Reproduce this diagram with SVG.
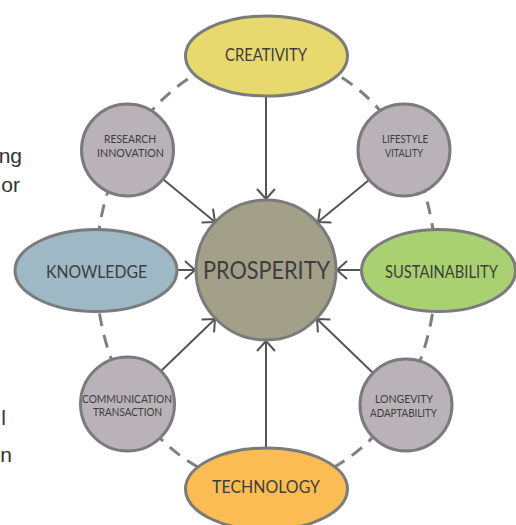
<svg xmlns="http://www.w3.org/2000/svg" width="516" height="525" viewBox="0 0 516 525">
<defs>
<style>
.bg{fill:#ffffff}
.ring{fill:none;stroke:#808080;stroke-width:3;stroke-dasharray:13 9}
.node{stroke:#7b7b7b;stroke-width:3}
.small{fill:#b9b3b9}
.lbl{font-family:Lato,"Liberation Sans",sans-serif;fill:#3d3d3d;text-anchor:middle}
.big{font-size:17px}
.tiny{font-size:10.5px}
.side{font-family:"Liberation Sans",Arial,sans-serif;font-size:21px;fill:#333333;text-anchor:end}
.conn{stroke:#555555;stroke-width:2;fill:none}
</style>
<marker id="arr" viewBox="-13 -11 15 22" refX="0" refY="0" markerWidth="15" markerHeight="22" markerUnits="userSpaceOnUse" orient="auto">
<path d="M-10,-9 L0,0 L-10,9" fill="none" stroke="#555555" stroke-width="2"/>
</marker>
</defs>
<rect class="bg" x="0" y="0" width="516" height="525"/>
<g id="side-text">
<text class="side" x="22" y="163">ng</text>
<text class="side" x="20" y="192">or</text>
<text class="side" x="6" y="425">l</text>
<text class="side" x="12" y="462">n</text>
</g>
<ellipse class="ring" cx="266" cy="270" rx="170" ry="215"/>
<g id="connectors">
<line class="conn" x1="266" y1="97" x2="266" y2="199" marker-end="url(#arr)"/>
<line class="conn" x1="177" y1="270" x2="195" y2="270" marker-end="url(#arr)"/>
<line class="conn" x1="360" y1="270" x2="337" y2="270" marker-end="url(#arr)"/>
<line class="conn" x1="266" y1="447" x2="266" y2="341" marker-end="url(#arr)"/>
<line class="conn" x1="164" y1="180" x2="215" y2="222" marker-end="url(#arr)"/>
<line class="conn" x1="369" y1="180" x2="318" y2="222" marker-end="url(#arr)"/>
<line class="conn" x1="161" y1="371" x2="215" y2="319" marker-end="url(#arr)"/>
<line class="conn" x1="373" y1="373" x2="317" y2="319" marker-end="url(#arr)"/>
</g>
<g id="creativity">
<ellipse class="node" cx="266.5" cy="56" rx="81" ry="40" fill="#e8d96f"/>
<text class="lbl big" x="266" y="61" textLength="82" lengthAdjust="spacingAndGlyphs">CREATIVITY</text>
</g>
<g id="knowledge">
<ellipse class="node" cx="96" cy="270.5" rx="81" ry="41" fill="#9fb8c5"/>
<text class="lbl big" x="96.5" y="278" textLength="101" lengthAdjust="spacingAndGlyphs">KNOWLEDGE</text>
</g>
<g id="sustainability">
<ellipse class="node" cx="438.5" cy="270.5" rx="77" ry="41" fill="#a9d172"/>
<text class="lbl big" x="441.5" y="278" textLength="113" lengthAdjust="spacingAndGlyphs">SUSTAINABILITY</text>
</g>
<g id="technology">
<ellipse class="node" cx="266.5" cy="489" rx="81" ry="41" fill="#fbbd53"/>
<text class="lbl big" x="266" y="493" textLength="108" lengthAdjust="spacingAndGlyphs">TECHNOLOGY</text>
</g>
<g id="research-innovation">
<circle class="node small" cx="127.5" cy="150" r="46"/>
<text class="lbl tiny" x="130" y="143" textLength="52" lengthAdjust="spacingAndGlyphs">RESEARCH</text>
<text class="lbl tiny" x="130.5" y="157" textLength="67" lengthAdjust="spacingAndGlyphs">INNOVATION</text>
</g>
<g id="lifestyle-vitality">
<circle class="node small" cx="404" cy="150" r="46"/>
<text class="lbl tiny" x="405" y="143" textLength="46" lengthAdjust="spacingAndGlyphs">LIFESTYLE</text>
<text class="lbl tiny" x="404" y="157" textLength="38" lengthAdjust="spacingAndGlyphs">VITALITY</text>
</g>
<g id="communication-transaction">
<circle class="node small" cx="127.5" cy="404" r="47"/>
<text class="lbl tiny" x="127" y="403" textLength="90" lengthAdjust="spacingAndGlyphs">COMMUNICATION</text>
<text class="lbl tiny" x="127.5" y="416" textLength="69" lengthAdjust="spacingAndGlyphs">TRANSACTION</text>
</g>
<g id="longevity-adaptability">
<circle class="node small" cx="406" cy="405" r="46"/>
<text class="lbl tiny" x="404" y="403" textLength="58" lengthAdjust="spacingAndGlyphs">LONGEVITY</text>
<text class="lbl tiny" x="403.5" y="417" textLength="67" lengthAdjust="spacingAndGlyphs">ADAPTABILITY</text>
</g>
<g id="prosperity">
<circle class="node" cx="266" cy="270" r="70" fill="#a3a08a"/>
<text class="lbl" x="266.5" y="279" font-size="25" textLength="127" lengthAdjust="spacingAndGlyphs">PROSPERITY</text>
</g>
</svg>
